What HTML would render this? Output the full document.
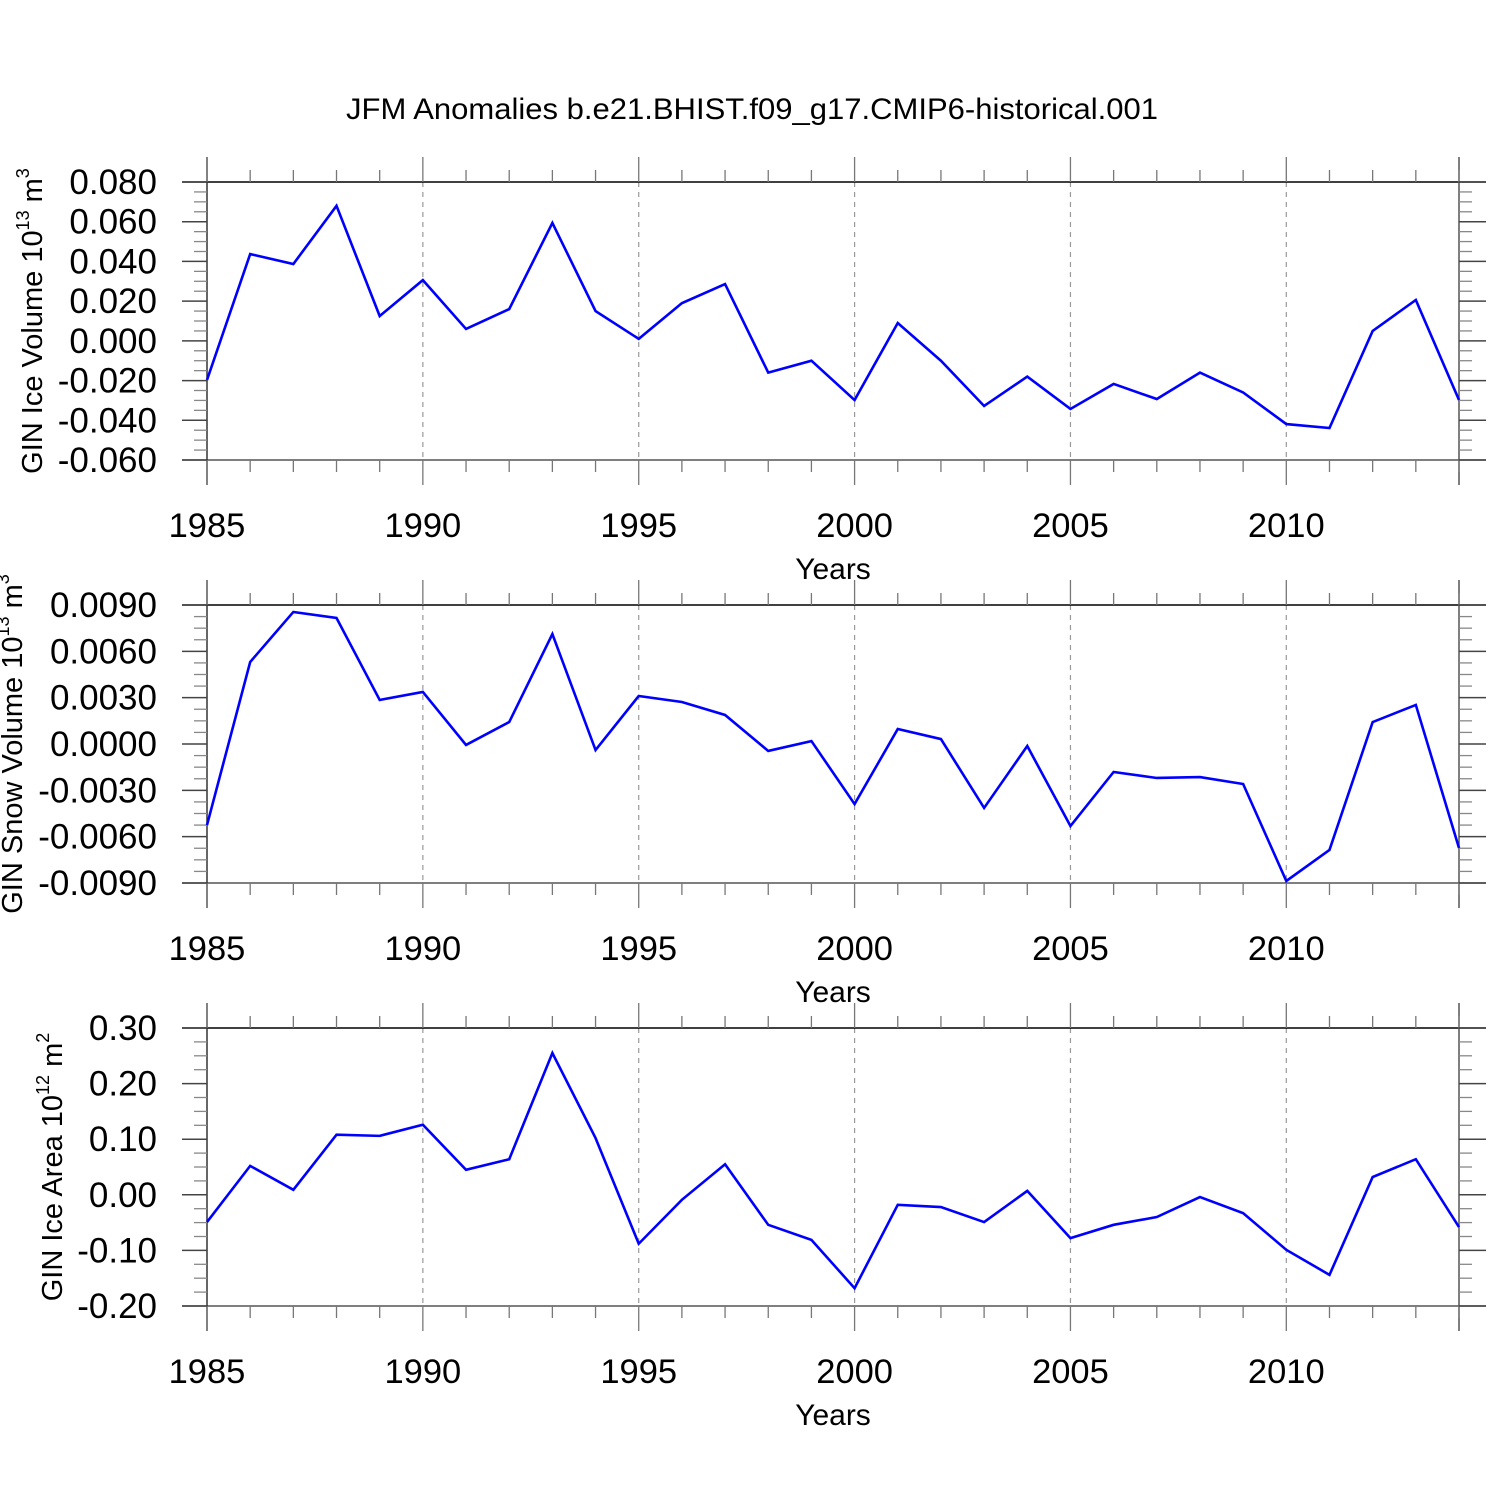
<!DOCTYPE html>
<html><head><meta charset="utf-8"><style>
body{margin:0;background:#fff}
svg{display:block;font-family:"Liberation Sans",sans-serif}
</style></head><body>
<svg id="c" width="1500" height="1500">
<text x="752" y="119" text-anchor="middle" font-size="30" textLength="812" lengthAdjust="spacingAndGlyphs">JFM Anomalies b.e21.BHIST.f09_g17.CMIP6-historical.001</text>
</svg>
<script>
const years=[1985,1986,1987,1988,1989,1990,1991,1992,1993,1994,1995,1996,1997,1998,1999,2000,2001,2002,2003,2004,2005,2006,2007,2008,2009,2010,2011,2012,2013,2014];
const iceVolume=[-0.0197,0.0437,0.0387,0.068,0.0125,0.0306,0.006,0.016,0.0594,0.015,0.001,0.019,0.0286,-0.016,-0.010,-0.0298,0.009,-0.010,-0.0328,-0.018,-0.0343,-0.0217,-0.0293,-0.016,-0.026,-0.0419,-0.0439,0.005,0.0206,-0.0298];
const snowVolume=[-0.00525,0.00531,0.00855,0.00816,0.00285,0.00337,-0.00006,0.00142,0.00712,-0.00039,0.00311,0.00272,0.00188,-0.00045,0.00019,-0.00389,0.00097,0.00032,-0.00414,-0.00013,-0.00531,-0.00181,-0.0022,-0.00214,-0.00259,-0.00887,-0.00686,0.00142,0.00253,-0.00673];
const iceArea=[-0.049,0.052,0.009,0.108,0.106,0.126,0.045,0.064,0.255,0.102,-0.088,-0.009,0.055,-0.054,-0.081,-0.168,-0.018,-0.022,-0.049,0.007,-0.078,-0.054,-0.040,-0.004,-0.033,-0.099,-0.144,0.032,0.064,-0.058];
const xTicks=[1985,1990,1995,2000,2005,2010];
const ticks1=[0.08,0.06,0.04,0.02,0,-0.02,-0.04,-0.06];
const ticks2=[0.009,0.006,0.003,0,-0.003,-0.006,-0.009];
const ticks3=[0.3,0.2,0.1,0,-0.1,-0.2];
const NS='http://www.w3.org/2000/svg';
const svg=document.getElementById('c');
function mk(t,a,p){const e=document.createElementNS(NS,t);for(const k in a)e.setAttribute(k,a[k]);(p||svg).appendChild(e);return e;}
const L=207,R=1459;
const xs=y=>L+(y-1985)*(R-L)/29;
function panel(top,vals,ticks,dec,title,sup,tx,name,sup2){
  const bot=top+278,ymax=ticks[0],ymin=ticks[ticks.length-1];
  const ys=v=>top+(ymax-v)/(ymax-ymin)*278;
  const g=mk('g',{});
  
  
  xTicks.slice(1).forEach(y=>{mk('line',{x1:xs(y),x2:xs(y),y1:top,y2:bot,stroke:'#999','stroke-width':1.2,'stroke-dasharray':'5,5'},g);});
  mk('line',{x1:L-25,x2:R+27,y1:top,y2:top,stroke:'#000','stroke-width':1.5},g);
  mk('line',{x1:L-25,x2:R+27,y1:bot,y2:bot,stroke:'#555','stroke-width':1.5},g);
  mk('line',{x1:L,x2:L,y1:top-25,y2:bot+25,stroke:'#333','stroke-width':1.5},g);
  mk('line',{x1:R,x2:R,y1:top-25,y2:bot+25,stroke:'#555','stroke-width':1.5},g);
  for(let y=1985;y<=2014;y++){
    const maj=(y%5===0);const len=maj?25:12;
    mk('line',{x1:xs(y),x2:xs(y),y1:top-len,y2:top,stroke:'#777','stroke-width':1.3},g);
    mk('line',{x1:xs(y),x2:xs(y),y1:bot,y2:bot+len,stroke:'#777','stroke-width':1.3},g);
  }
  xTicks.forEach(y=>{const t=mk('text',{x:xs(y),y:bot+77,'text-anchor':'middle','font-size':34.5},g);t.textContent=y;
    
    });
  const xt=mk('text',{x:833,y:bot+119,'text-anchor':'middle','font-size':30},g);xt.textContent='Years';
  
  
  const step=(ymax-ymin)/(ticks.length-1);
  for(let i=0;i<ticks.length;i++){
    const y=ys(ticks[i]);
    mk('line',{x1:L-25,x2:L,y1:y,y2:y,stroke:'#444','stroke-width':1.5},g);
    mk('line',{x1:R,x2:R+27,y1:y,y2:y,stroke:'#444','stroke-width':1.5},g);
    const t=mk('text',{x:157,y:y+12,'text-anchor':'end','font-size':35},g);
    t.textContent=ticks[i].toFixed(dec);
    
    
    if(i<ticks.length-1){for(let k=1;k<4;k++){const yy=ys(ticks[i]-step*k/4);
      mk('line',{x1:L-13,x2:L,y1:yy,y2:yy,stroke:'#888','stroke-width':1.3},g);
      mk('line',{x1:R,x2:R+13,y1:yy,y2:yy,stroke:'#888','stroke-width':1.3},g);}}
  }
  const yt=mk('text',{transform:`translate(${tx},${top+139}) rotate(-90)`,'text-anchor':'middle','font-size':29},g);
  yt.innerHTML=title+' 10<tspan font-size="18" dy="-13">'+sup+'</tspan><tspan dy="13"> m</tspan><tspan font-size="18" dy="-13">'+sup2+'</tspan>';
  
  
  const pl=mk('polyline',{points:years.map((y,i)=>xs(y)+','+ys(vals[i])).join(' '),fill:'none',stroke:'#0000ff','stroke-width':2.6},g);
  
  
}
panel(182,iceVolume,ticks1,3,'GIN Ice Volume','13',42,'ice-volume-panel','3');
panel(605,snowVolume,ticks2,4,'GIN Snow Volume','13',22,'snow-volume-panel','3');
panel(1028,iceArea,ticks3,2,'GIN Ice Area','12',62,'ice-area-panel','2');
</script>
</body></html>
